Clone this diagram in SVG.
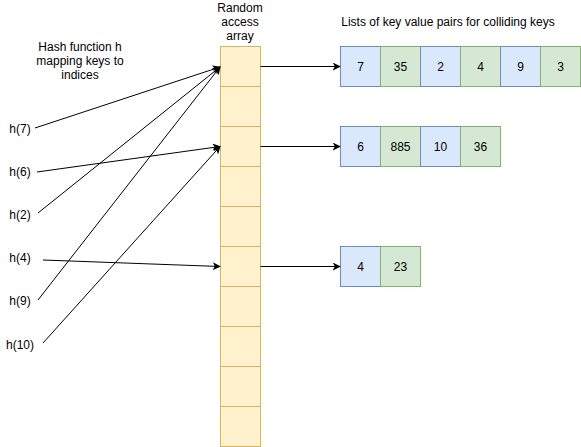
<svg xmlns="http://www.w3.org/2000/svg" width="581" height="447" viewBox="0 0 581 447">
<defs>
<marker id="arr" viewBox="0 0 10 10" refX="9" refY="5" markerWidth="8" markerHeight="8" markerUnits="userSpaceOnUse" orient="auto">
<path d="M0,0 L10,5 L0,10 L2.5,5 Z" fill="#000"/>
</marker>
<style>
text{font-family:"Liberation Sans",Arial,sans-serif;font-size:12px;fill:#000;}
.c{text-anchor:middle;dominant-baseline:central;}
.arr{fill:#fff2cc;stroke:#d6b656;stroke-width:1;}
.k{fill:#dae8fc;stroke:#6c8ebf;stroke-width:1;}
.v{fill:#d5e8d4;stroke:#82b366;stroke-width:1;}
.e{fill:none;stroke:#000;stroke-width:1;marker-end:url(#arr);}
</style>
</defs>
<rect width="581" height="447" fill="#fff"/>
<g id="labels">
<text class="c" x="240" y="8">Random</text>
<text class="c" x="240" y="22">access</text>
<text class="c" x="240" y="36">array</text>
<text class="c" x="80" y="47">Hash function h</text>
<text class="c" x="80" y="61">mapping keys to</text>
<text class="c" x="80" y="75">indices</text>
<text class="c" x="448" y="22">Lists of key value pairs for colliding keys</text>
<text class="c" x="20" y="129">h(7)</text>
<text class="c" x="20" y="172">h(6)</text>
<text class="c" x="20" y="215">h(2)</text>
<text class="c" x="20" y="258">h(4)</text>
<text class="c" x="20" y="301">h(9)</text>
<text class="c" x="20" y="345">h(10)</text>
</g>
<g id="array">
<rect class="arr" x="220.5" y="46.5" width="40" height="40"/>
<rect class="arr" x="220.5" y="86.5" width="40" height="40"/>
<rect class="arr" x="220.5" y="126.5" width="40" height="40"/>
<rect class="arr" x="220.5" y="166.5" width="40" height="40"/>
<rect class="arr" x="220.5" y="206.5" width="40" height="40"/>
<rect class="arr" x="220.5" y="246.5" width="40" height="40"/>
<rect class="arr" x="220.5" y="286.5" width="40" height="40"/>
<rect class="arr" x="220.5" y="326.5" width="40" height="40"/>
<rect class="arr" x="220.5" y="366.5" width="40" height="40"/>
<rect class="arr" x="220.5" y="406.5" width="40" height="40"/>
</g>
<g id="list1">
<rect class="k" x="340.5" y="46.5" width="40" height="40"/><text class="c" x="360.5" y="66.5">7</text>
<rect class="v" x="380.5" y="46.5" width="40" height="40"/><text class="c" x="400.5" y="66.5">35</text>
<rect class="k" x="420.5" y="46.5" width="40" height="40"/><text class="c" x="440.5" y="66.5">2</text>
<rect class="v" x="460.5" y="46.5" width="40" height="40"/><text class="c" x="480.5" y="66.5">4</text>
<rect class="k" x="500.5" y="46.5" width="40" height="40"/><text class="c" x="520.5" y="66.5">9</text>
<rect class="v" x="540.5" y="46.5" width="40" height="40"/><text class="c" x="560.5" y="66.5">3</text>
</g>
<g id="list2">
<rect class="k" x="340.5" y="126.5" width="40" height="40"/><text class="c" x="360.5" y="146.5">6</text>
<rect class="v" x="380.5" y="126.5" width="40" height="40"/><text class="c" x="400.5" y="146.5">885</text>
<rect class="k" x="420.5" y="126.5" width="40" height="40"/><text class="c" x="440.5" y="146.5">10</text>
<rect class="v" x="460.5" y="126.5" width="40" height="40"/><text class="c" x="480.5" y="146.5">36</text>
</g>
<g id="list3">
<rect class="k" x="340.5" y="246.5" width="40" height="40"/><text class="c" x="360.5" y="266.5">4</text>
<rect class="v" x="380.5" y="246.5" width="40" height="40"/><text class="c" x="400.5" y="266.5">23</text>
</g>
<g id="connectors">
<line class="e" x1="260.5" y1="66.5" x2="340" y2="66.5"/>
<line class="e" x1="260.5" y1="146.5" x2="340" y2="146.5"/>
<line class="e" x1="260.5" y1="266.5" x2="340" y2="266.5"/>
<line class="e" x1="35" y1="128" x2="220" y2="67"/>
<line class="e" x1="38" y1="213" x2="220" y2="67"/>
<line class="e" x1="38" y1="300" x2="220" y2="67"/>
<line class="e" x1="37" y1="172" x2="220" y2="146.5"/>
<line class="e" x1="43" y1="343" x2="220" y2="146.5"/>
<line class="e" x1="43" y1="260" x2="220" y2="266.5"/>
</g>
</svg>
